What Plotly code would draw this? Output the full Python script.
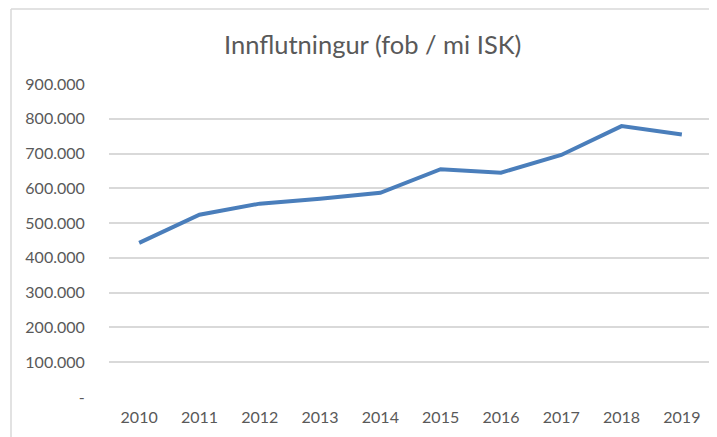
import plotly.graph_objects as go

years = ["2010", "2011", "2012", "2013", "2014", "2015", "2016", "2017", "2018", "2019"]
imports = [443000, 524000, 556000, 570000, 587000, 655000, 645000, 696000, 779000, 755000]
y_tick_vals = [0, 100000, 200000, 300000, 400000, 500000, 600000, 700000, 800000, 900000]
y_tick_text = ["-", "100.000", "200.000", "300.000", "400.000", "500.000", "600.000", "700.000", "800.000", "900.000"]

# page body has an 8px offset; positions below are in figure coordinates
OFF = 8
W, H = 717, 437
L = 109 - OFF
T = 84 - OFF
R = W - (712 - OFF)
B = H - (397.4 - OFF)
pw = W - L - R
ph = H - T - B

fig = go.Figure()
fig.add_trace(go.Scatter(
    x=years, y=imports, mode="lines",
    line=dict(color="#4a7ebb", width=4),
    hoverinfo="skip",
))

text_color = "#595959"
grid_color = "#d9d9d9"

fig.update_layout(
    width=W, height=H,
    margin=dict(l=L, r=R, t=T, b=B),
    paper_bgcolor="white", plot_bgcolor="white",
    showlegend=False,
    font=dict(family="Lato", color=text_color, size=16),
    title=dict(text="Innflutningur (fob / mi ISK)", x=(372.7 - OFF) / W, xanchor="center",
               y=1 - (45 - OFF) / H, yanchor="middle",
               font=dict(size=25.5, color=text_color, family="Lato")),
    xaxis=dict(type="category", range=[-0.5, 9.5], showgrid=False,
               showline=False, zeroline=False,
               ticks="outside", ticklen=6, tickcolor="rgba(0,0,0,0)",
               tickfont=dict(size=16, color=text_color)),
    yaxis=dict(range=[0, 900000], tickvals=y_tick_vals, ticktext=y_tick_text,
               showgrid=True, gridcolor=grid_color, gridwidth=1.5,
               zeroline=False, showline=False,
               ticks="outside", ticklen=20, tickcolor="rgba(0,0,0,0)",
               tickfont=dict(size=16, color=text_color)),
)

# chart-area border (cropped at right and bottom)
bx = (11 - OFF - L) / pw
by = (H - B - (9 - OFF)) / ph
fig.add_shape(type="line", xref="paper", yref="paper", x0=bx, x1=bx, y0=by, y1=-0.5,
              line=dict(color=grid_color, width=1.5))
fig.add_shape(type="line", xref="paper", yref="paper", x0=bx, x1=1.5, y0=by, y1=by,
              line=dict(color=grid_color, width=1.5))

fig.write_html("out.html")
